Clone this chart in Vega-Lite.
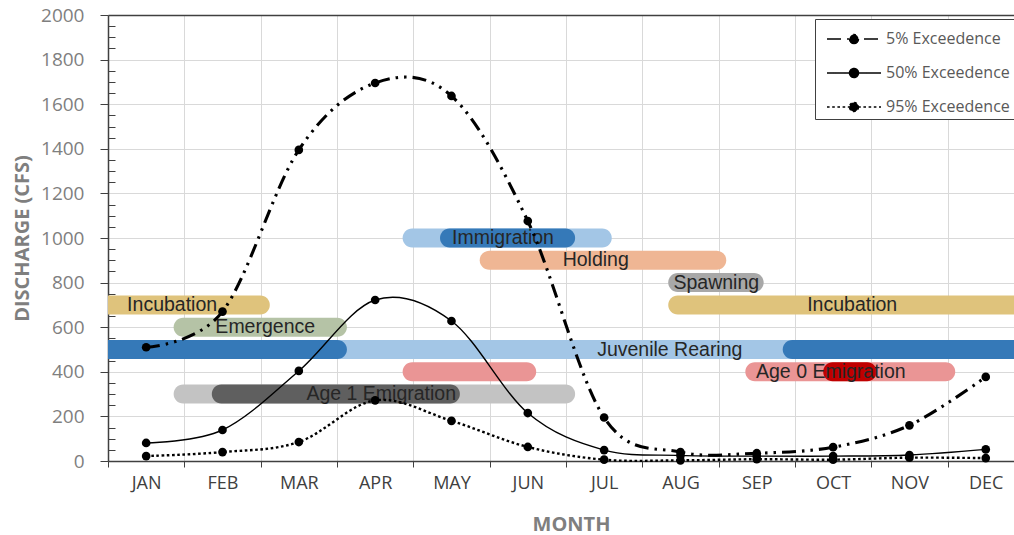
{
  "$schema": "https://vega.github.io/schema/vega-lite/v6.json",
  "width": 906,
  "height": 446,
  "autosize": {"type": "none"},
  "padding": {"left": 108, "top": 15, "right": 0, "bottom": 74},
  "background": "white",
  "config": {
    "view": {"stroke": null},
    "font": "Open Sans",
    "axis": {"labelOverlap": false, "labelFlush": false}
  },
  "datasets": {
    "flow": [
      {"month": 1, "series": "5% Exceedence", "cfs": 510},
      {"month": 2, "series": "5% Exceedence", "cfs": 670},
      {"month": 3, "series": "5% Exceedence", "cfs": 1395},
      {"month": 4, "series": "5% Exceedence", "cfs": 1695},
      {"month": 5, "series": "5% Exceedence", "cfs": 1637},
      {"month": 6, "series": "5% Exceedence", "cfs": 1076},
      {"month": 7, "series": "5% Exceedence", "cfs": 195},
      {"month": 8, "series": "5% Exceedence", "cfs": 40},
      {"month": 9, "series": "5% Exceedence", "cfs": 35},
      {"month": 10, "series": "5% Exceedence", "cfs": 62},
      {"month": 11, "series": "5% Exceedence", "cfs": 160},
      {"month": 12, "series": "5% Exceedence", "cfs": 377},
      {"month": 1, "series": "50% Exceedence", "cfs": 81},
      {"month": 2, "series": "50% Exceedence", "cfs": 139},
      {"month": 3, "series": "50% Exceedence", "cfs": 404},
      {"month": 4, "series": "50% Exceedence", "cfs": 722},
      {"month": 5, "series": "50% Exceedence", "cfs": 628},
      {"month": 6, "series": "50% Exceedence", "cfs": 215},
      {"month": 7, "series": "50% Exceedence", "cfs": 49},
      {"month": 8, "series": "50% Exceedence", "cfs": 25},
      {"month": 9, "series": "50% Exceedence", "cfs": 22},
      {"month": 10, "series": "50% Exceedence", "cfs": 22},
      {"month": 11, "series": "50% Exceedence", "cfs": 27},
      {"month": 12, "series": "50% Exceedence", "cfs": 52},
      {"month": 1, "series": "95% Exceedence", "cfs": 22},
      {"month": 2, "series": "95% Exceedence", "cfs": 40},
      {"month": 3, "series": "95% Exceedence", "cfs": 85},
      {"month": 4, "series": "95% Exceedence", "cfs": 272},
      {"month": 5, "series": "95% Exceedence", "cfs": 180},
      {"month": 6, "series": "95% Exceedence", "cfs": 63},
      {"month": 7, "series": "95% Exceedence", "cfs": 6},
      {"month": 8, "series": "95% Exceedence", "cfs": 3},
      {"month": 9, "series": "95% Exceedence", "cfs": 8},
      {"month": 10, "series": "95% Exceedence", "cfs": 6},
      {"month": 11, "series": "95% Exceedence", "cfs": 15},
      {"month": 12, "series": "95% Exceedence", "cfs": 13}
    ],
    "periods": [
      {"stage": "Immigration", "cfs": 1000, "month": 4.36, "to": 7.1, "phase": "Immigration (range)"},
      {"stage": "Immigration", "cfs": 1000, "month": 4.85, "to": 6.62, "phase": "Immigration (peak)"},
      {"stage": "Holding", "cfs": 900, "month": 5.37, "to": 8.6, "phase": "Holding (range)"},
      {"stage": "Spawning", "cfs": 800, "month": 7.84, "to": 9.09, "phase": "Spawning (range)"},
      {"stage": "Incubation", "cfs": 700, "month": 0.2, "to": 2.62, "phase": "Incubation (range)"},
      {"stage": "Incubation", "cfs": 700, "month": 7.84, "to": 12.7, "phase": "Incubation (range)"},
      {"stage": "Emergence", "cfs": 600, "month": 1.36, "to": 3.63, "phase": "Emergence (range)"},
      {"stage": "Juvenile Rearing", "cfs": 500, "month": 0.2, "to": 12.7, "phase": "Juvenile Rearing (range)"},
      {"stage": "Juvenile Rearing", "cfs": 500, "month": 0.2, "to": 3.63, "phase": "Juvenile Rearing (peak)"},
      {"stage": "Juvenile Rearing", "cfs": 500, "month": 9.34, "to": 12.7, "phase": "Juvenile Rearing (peak)"},
      {"stage": "Age 0 Emigration", "cfs": 400, "month": 4.36, "to": 6.11, "phase": "Age 0 Emigration (range)"},
      {"stage": "Age 0 Emigration", "cfs": 400, "month": 8.85, "to": 11.6, "phase": "Age 0 Emigration (range)"},
      {"stage": "Age 0 Emigration", "cfs": 400, "month": 9.87, "to": 10.57, "phase": "Age 0 Emigration (peak)"},
      {"stage": "Age 1 Emigration", "cfs": 300, "month": 1.36, "to": 6.62, "phase": "Age 1 Emigration (range)"},
      {"stage": "Age 1 Emigration", "cfs": 300, "month": 1.86, "to": 5.11, "phase": "Age 1 Emigration (peak)"}
    ],
    "labels": [
      {"label": "Immigration", "month": 5.675, "cfs": 1000},
      {"label": "Holding", "month": 6.89, "cfs": 900},
      {"label": "Spawning", "month": 8.47, "cfs": 800},
      {"label": "Incubation", "month": 1.34, "cfs": 700},
      {"label": "Incubation", "month": 10.25, "cfs": 700},
      {"label": "Emergence", "month": 2.56, "cfs": 600},
      {"label": "Juvenile Rearing", "month": 7.86, "cfs": 500},
      {"label": "Age 0 Emigration", "month": 9.97, "cfs": 400},
      {"label": "Age 1 Emigration", "month": 4.08, "cfs": 300}
    ]
  },
  "encoding": {
    "x": {
      "field": "month",
      "type": "quantitative",
      "scale": {"domain": [0.5, 12.37], "nice": false, "zero": false},
      "axis": {
        "title": "MONTH",
        "values": [0.5, 1, 1.5, 2, 2.5, 3, 3.5, 4, 4.5, 5, 5.5, 6, 6.5, 7, 7.5, 8, 8.5, 9, 9.5, 10, 10.5, 11, 11.5, 12],
        "labelExpr": "datum.value % 1 === 0 ? ['JAN','FEB','MAR','APR','MAY','JUN','JUL','AUG','SEP','OCT','NOV','DEC'][datum.value - 1] : ''",
        "labelFont": "Open Sans",
        "labelFontSize": 18,
        "labelColor": "#404040",
        "labelPadding": 7,
        "grid": true,
        "gridColor": "#d9d9d9",
        "gridWidth": 1,
        "gridOpacity": {"condition": {"test": "datum.value % 1 !== 0", "value": 1}, "value": 0},
        "ticks": true,
        "tickSize": 6,
        "tickColor": "#404040",
        "tickOpacity": {"condition": {"test": "datum.value % 1 !== 0", "value": 1}, "value": 0},
        "domainColor": "#404040",
        "domainWidth": 1.5,
        "titleFont": "Open Sans",
        "titleFontSize": 20,
        "titleFontWeight": "bold",
        "titleColor": "#7f7f7f",
        "titlePadding": 22,
        "titleX": 463
      }
    },
    "y": {
      "field": "cfs",
      "type": "quantitative",
      "scale": {"domain": [0, 2000], "nice": false, "padding": 0},
      "axis": {
        "title": "DISCHARGE (CFS)",
        "values": [0, 50, 100, 150, 200, 250, 300, 350, 400, 450, 500, 550, 600, 650, 700, 750, 800, 850, 900, 950, 1000, 1050, 1100, 1150, 1200, 1250, 1300, 1350, 1400, 1450, 1500, 1550, 1600, 1650, 1700, 1750, 1800, 1850, 1900, 1950, 2000],
        "labelExpr": "datum.value % 200 === 0 ? datum.label : ''",
        "format": "d",
        "labelFont": "Open Sans",
        "labelFontSize": 19,
        "labelColor": "#7f7f7f",
        "labelPadding": 16,
        "grid": true,
        "gridColor": {"condition": {"test": "datum.value === 2000", "value": "#404040"}, "value": "#d9d9d9"},
        "gridWidth": {"condition": {"test": "datum.value === 2000", "value": 1.5}, "value": 1},
        "gridOpacity": {"condition": {"test": "datum.value % 200 === 0", "value": 1}, "value": 0},
        "ticks": true,
        "tickColor": "#404040",
        "tickSize": {"condition": {"test": "datum.value % 200 === 0", "value": 8}, "value": -7},
        "domainColor": "#404040",
        "domainWidth": 1.5,
        "titleFont": "Open Sans",
        "titleFontSize": 20,
        "titleFontWeight": "bold",
        "titleColor": "#7f7f7f",
        "titlePadding": 8
      }
    }
  },
  "layer": [
    {
      "data": {"name": "periods"},
      "mark": {"type": "bar", "orient": "horizontal", "height": 19, "cornerRadius": 9.5, "clip": true},
      "encoding": {
        "x2": {"field": "to"},
        "color": {
          "field": "phase",
          "type": "nominal",
          "legend": null,
          "scale": {
            "domain": [
              "Immigration (range)", "Immigration (peak)", "Holding (range)", "Spawning (range)",
              "Incubation (range)", "Emergence (range)", "Juvenile Rearing (range)", "Juvenile Rearing (peak)",
              "Age 0 Emigration (range)", "Age 0 Emigration (peak)", "Age 1 Emigration (range)", "Age 1 Emigration (peak)"
            ],
            "range": [
              "#a3c6e6", "#3579b8", "#efb694", "#a8a8a8",
              "#dfc37c", "#b5c3a6", "#a3c6e6", "#3579b8",
              "#ea9595", "#c00000", "#c3c3c3", "#5f5f5f"
            ]
          }
        }
      }
    },
    {
      "data": {"name": "labels"},
      "mark": {"type": "text", "font": "Liberation Sans", "fontSize": 19.5, "color": "#262626", "align": "center", "baseline": "middle"},
      "encoding": {
        "text": {"field": "label"}
      }
    },
    {
      "data": {"name": "flow"},
      "transform": [{"filter": "datum.series === '50% Exceedence'"}],
      "mark": {"type": "line", "interpolate": "cardinal", "color": "black", "strokeWidth": 1.4}
    },
    {
      "data": {"name": "flow"},
      "transform": [{"filter": "datum.series === '95% Exceedence'"}],
      "mark": {"type": "line", "interpolate": "cardinal", "color": "black", "strokeWidth": 2.4, "strokeDash": [2.6, 2.6]}
    },
    {
      "data": {"name": "flow"},
      "transform": [{"filter": "datum.series === '5% Exceedence'"}],
      "mark": {"type": "line", "interpolate": "cardinal", "color": "black"},
      "encoding": {
        "strokeDash": {
          "field": "series",
          "type": "nominal",
          "scale": {
            "domain": ["5% Exceedence", "50% Exceedence", "95% Exceedence"],
            "range": [[14, 6, 2.5, 6, 2.5, 6], [1, 0], [2.6, 2.6]]
          },
          "legend": {
            "title": null,
            "orient": "none",
            "legendX": 707,
            "legendY": 4,
            "symbolType": "M-0.533,0H3.067M1.567,0A0.3,0.3,0,1,1,0.967,0A0.3,0.3,0,1,1,1.567,0Z",
            "symbolSize": 900,
            "symbolFillColor": "black",
            "symbolStrokeColor": "black",
            "labelFont": "Open Sans",
            "labelFontSize": 16,
            "labelColor": "#595959",
            "labelOffset": 35,
            "labelLimit": 0,
            "padding": 4,
            "rowPadding": 10,
            "strokeColor": "#404040",
            "fillColor": "white"
          }
        },
        "strokeWidth": {
          "field": "series",
          "type": "nominal",
          "scale": {
            "domain": ["50% Exceedence", "95% Exceedence", "5% Exceedence"],
            "range": [1.4, 3.1]
          }
        }
      }
    },
    {
      "data": {"name": "flow"},
      "mark": {"type": "point", "shape": "circle", "filled": true, "size": 75, "color": "black", "opacity": 1}
    }
  ]
}
